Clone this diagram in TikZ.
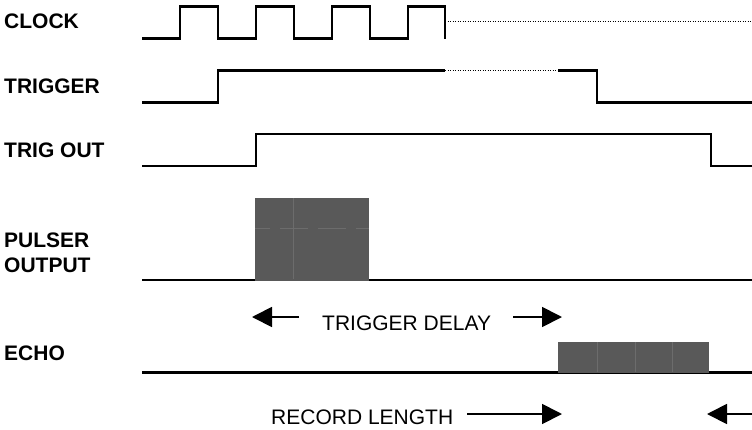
\documentclass[tikz,border=0pt]{standalone}
\usepackage{fontspec}
\setmainfont{Liberation Sans}
\usetikzlibrary{arrows.meta}
\definecolor{burstgray}{HTML}{595959}
\definecolor{seamgray}{HTML}{6C6C6C}
\tikzset{
  wave/.style={line width=2.6pt},
  cont/.style={line width=1pt, dash pattern=on 1pt off 1.5pt},
  lbl/.style={font=\bfseries\fontsize{21}{25}\selectfont, inner sep=0pt, anchor=base west},
  txt/.style={font=\fontsize{21}{25}\selectfont, inner sep=0pt, anchor=base west},
  arr/.style={line width=1.8pt, -{Triangle[length=20pt,width=20pt]}},
  burst/.style={fill=burstgray, draw=none},
  seam/.style={seamgray, line width=0.8pt}
}

\begin{document}
\begin{tikzpicture}[x=1pt,y=-1pt]
\useasboundingbox (0,0) rectangle (752,429);
% signal names
\node[lbl] (clock) at (4,28) {CLOCK};
\node[lbl] (trigger) at (4,93) {TRIGGER};
\node[lbl] (trigout) at (4,157) {TRIG OUT};
\node[lbl, anchor=north west, align=left] (pulser) at (4,233) {PULSER\\OUTPUT};
\node[lbl] (echo) at (4,360) {ECHO};

% clock
\draw[wave] (142,38.7) -- (180,38.7) -- (180,6.7) -- (218,6.7) -- (218,38.7) -- (256,38.7)
  -- (256,6.7) -- (294,6.7) -- (294,38.7) -- (332,38.7) -- (332,6.7) -- (370,6.7)
  -- (370,38.7) -- (408,38.7) -- (408,6.7) -- (445,6.7) -- (445,38.7);
\draw[cont] (445,21.7) -- (752,21.7);

% trigger
\draw[wave] (142,102.7) -- (218,102.7) -- (218,70.7) -- (445,70.7);
\draw[cont] (445,70.7) -- (558,70.7);
\draw[wave] (558,70.7) -- (597,70.7) -- (597,102.7) -- (752,102.7);

% trig out
\draw[wave] (142,166) -- (256,166) -- (256,134) -- (711,134) -- (711,166) -- (752,166);

% pulser output
\draw[wave] (142,280) -- (752,280);
\fill[burst] (255,198) rectangle (369,281);
\draw[seam] (293,198) -- (293,279);
\draw[seam, dash pattern=on 28pt off 10pt, dash phase=13pt] (255,228) -- (369,228);

% echo
\draw[wave] (142,372.5) -- (752,372.5);
\fill[burst] (558,342) rectangle (709,373);
\draw[seam] (597,342) -- (597,372) (635,342) -- (635,372) (672,342) -- (672,372);

% trigger delay
\node[txt] (delay) at (322,330) {TRIGGER DELAY};
\coordinate (dl0) at (299,317);
\coordinate (dl1) at (252,317);
\coordinate (dr0) at (513,317);
\coordinate (dr1) at (562,317);
\draw[arr] (dl0) -- (dl1);
\draw[arr] (dr0) -- (dr1);

% record length
\node[txt] (record) at (271,424) {RECORD LENGTH};
\coordinate (rl0) at (467,414);
\coordinate (rl1) at (562,414);
\coordinate (rr0) at (752,414);
\coordinate (rr1) at (707,414);
\draw[arr] (rl0) -- (rl1);
\draw[arr] (rr0) -- (rr1);
\end{tikzpicture}
\end{document}
